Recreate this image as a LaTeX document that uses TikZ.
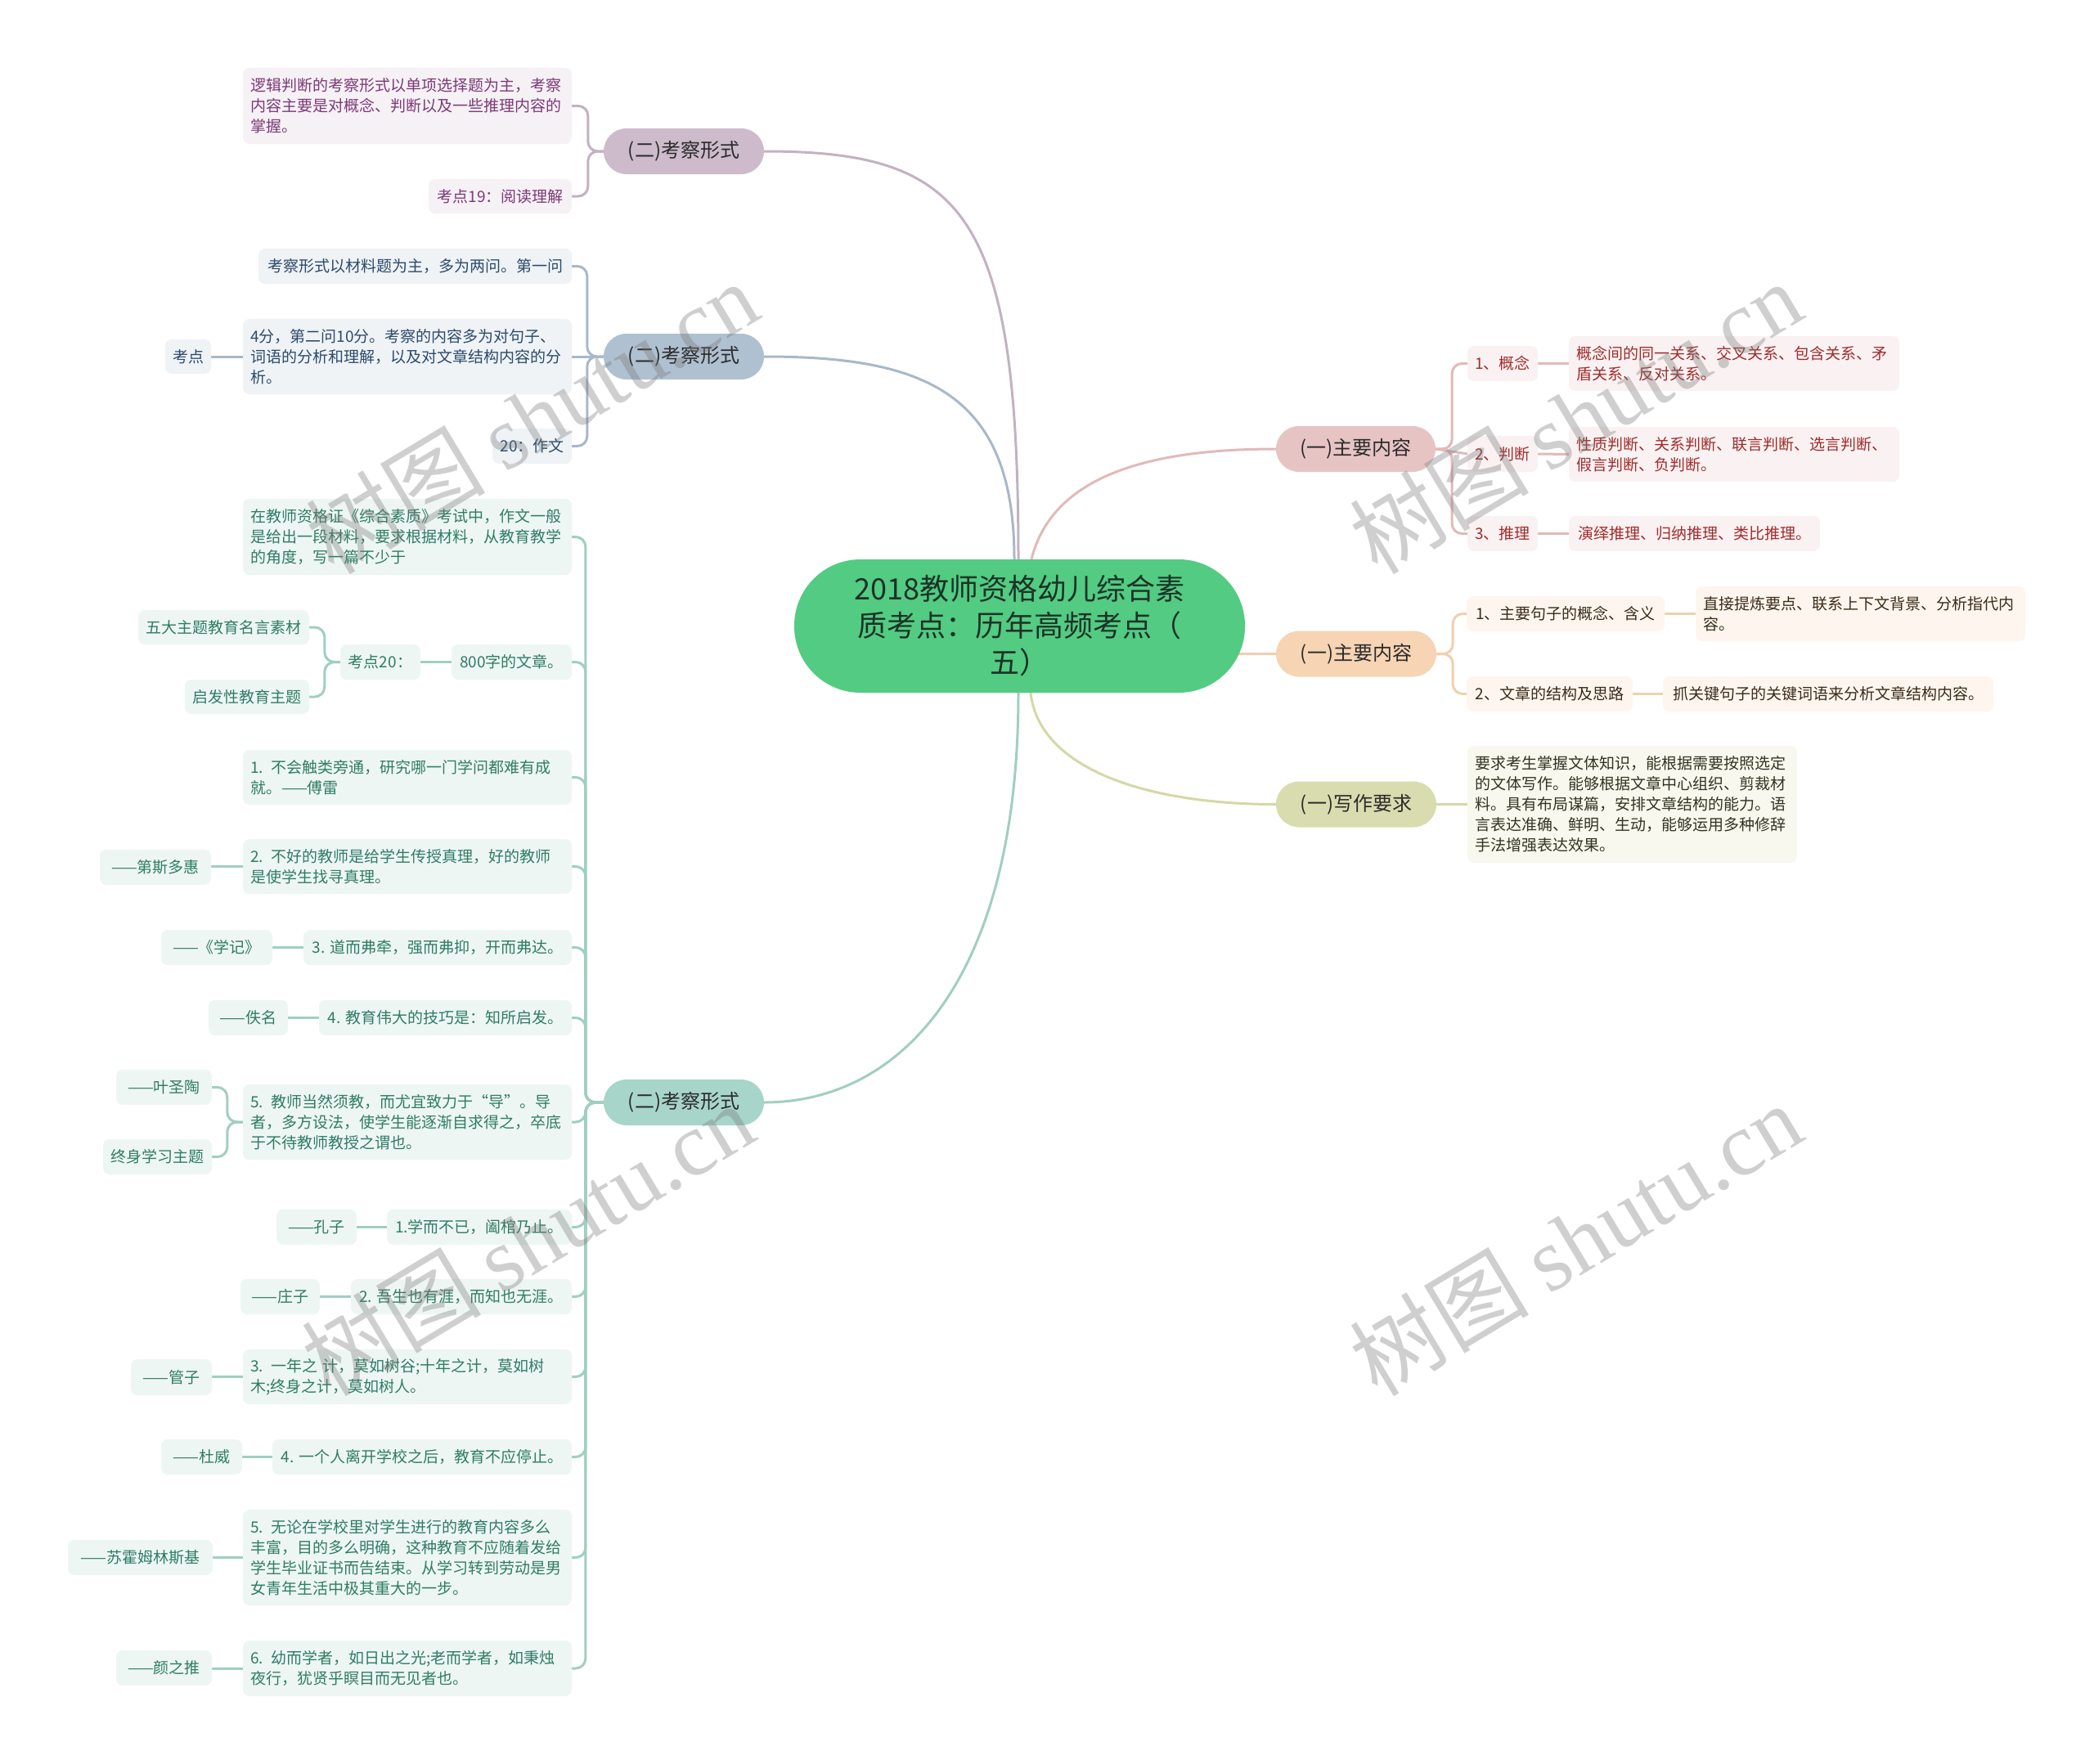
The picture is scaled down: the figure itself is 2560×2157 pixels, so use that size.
\documentclass[tikz,border=0pt]{standalone}
\usepackage{fontspec}
\newfontfamily\cjk{Noto Sans CJK SC}
\newfontfamily\wmserif{Liberation Serif}
\usetikzlibrary{calc}
\pgfdeclarelayer{bg}\pgfdeclarelayer{fg}\pgfsetlayers{bg,main,fg}
\definecolor{cenF}{HTML}{53CB83}\definecolor{cenT}{HTML}{1B3326}
\definecolor{purN}{HTML}{CDBBCB}\definecolor{purL}{HTML}{F6F1F5}\definecolor{purT}{HTML}{7B3A78}\definecolor{purC}{HTML}{C3B2C1}
\definecolor{bluN}{HTML}{AFC0D0}\definecolor{bluL}{HTML}{EFF3F6}\definecolor{bluT}{HTML}{2C4A6B}\definecolor{bluC}{HTML}{A9B8C8}
\definecolor{teaN}{HTML}{A7D5C9}\definecolor{teaL}{HTML}{EEF6F4}\definecolor{teaT}{HTML}{2E7D64}\definecolor{teaC}{HTML}{A0CFC2}
\definecolor{pnkN}{HTML}{E7C4C4}\definecolor{pnkL}{HTML}{FAF2F2}\definecolor{pnkT}{HTML}{A12B2B}\definecolor{pnkC}{HTML}{E2B9B9}
\definecolor{orgN}{HTML}{F6D4B4}\definecolor{orgL}{HTML}{FEF6EE}\definecolor{orgT}{HTML}{3B2A1A}\definecolor{orgC}{HTML}{F1CFAE}
\definecolor{olvN}{HTML}{D9DCAE}\definecolor{olvL}{HTML}{F8F8EE}\definecolor{olvT}{HTML}{333322}\definecolor{olvC}{HTML}{D5D8A6}
\definecolor{brT}{HTML}{2B2B2B}\definecolor{wmgray}{HTML}{787878}
\newcommand\mmbox[7]{%
 \pgfmathsetmacro\mmw{#4-#2}\pgfmathsetmacro\mmh{#5-#3}\pgfmathsetmacro\mmt{#4-#2-18}%
 \node[leafbase,align=left,#6,minimum width=\mmw pt,minimum height=\mmh pt,text width=\mmt pt] (#1) at ({(#2+#4)/2},{(#3+#5)/2}) {#7};}
\newcommand\mmline[7]{%
 \pgfmathsetmacro\mmw{#4-#2}\pgfmathsetmacro\mmh{#5-#3}%
 \node[leafbase,inner xsep=0pt,#6,minimum width=\mmw pt,minimum height=\mmh pt] (#1) at ({(#2+#4)/2},{(#3+#5)/2}) {#7};}
\begin{document}
\begin{tikzpicture}[x=1pt,y=-1pt,
 leafbase/.style={rounded corners=8pt, inner xsep=9pt, inner ysep=3pt, font=\cjk\fontsize{19}{25}\selectfont, align=center},
 brnode/.style={rounded corners=28pt, minimum width=196pt, minimum height=56pt, inner sep=0pt, font=\cjk\fontsize{24}{28}\selectfont, text=brT},
 link/.style={line width=3pt, rounded corners=12pt, line cap=round},
 pleaf/.style={fill=purL, text=purT},
 bleaf/.style={fill=bluL, text=bluT},
 tleaf/.style={fill=teaL, text=teaT},
 kleaf/.style={fill=pnkL, text=pnkT},
 oleaf/.style={fill=orgL, text=orgT},
 vleaf/.style={fill=olvL, text=olvT},
 wm/.style={rotate=31, text=wmgray, opacity=0.35, text opacity=0.35, font=\cjk\fontsize{110}{110}\selectfont, inner sep=0pt}
]
\useasboundingbox (0,0) rectangle (2560,2157);
% central
\node[fill=cenF, rounded corners=81pt, minimum width=551pt, minimum height=163pt, inner sep=0pt, align=center, text=cenT, font=\cjk\fontsize{36}{45}\selectfont] (c) at (1246.5,765.5) {2018教师资格幼儿综合素\\质考点：历年高频考点（\\五）};
% branch nodes
\node[brnode, fill=purN] (pur) at (836,185) {(二)考察形式};
\node[brnode, fill=bluN] (blu) at (836,436) {(二)考察形式};
\node[brnode, fill=teaN] (tea) at (836,1348) {(二)考察形式};
\node[brnode, fill=pnkN, minimum width=195pt] (pnk) at (1657.5,549) {(一)主要内容};
\node[brnode, fill=orgN] (org) at (1658,799.5) {(一)主要内容};
\node[brnode, fill=olvN] (olv) at (1658,983.5) {(一)写作要求};
% purple leaves
\mmbox{p1}{297}{83}{699}{176}{pleaf}{逻辑判断的考察形式以单项选择题为主，考察\\内容主要是对概念、判断以及一些推理内容的\\掌握。}
\mmline{p2}{524}{219}{699}{261}{pleaf}{考点19：阅读理解}
% blue leaves
\mmline{b1}{316}{304}{699}{347}{bleaf}{考察形式以材料题为主，多为两问。第一问}
\mmbox{b2}{297}{390}{699}{482}{bleaf}{4分，第二问10分。考察的内容多为对句子、\\词语的分析和理解，以及对文章结构内容的分\\析。}
\mmline{b2a}{202}{415}{258}{457}{bleaf}{考点}
\mmline{b3}{602}{524}{699}{567}{bleaf}{20：作文}
% teal leaves
\mmbox{t1}{297}{610}{699}{703}{tleaf}{在教师资格证《综合素质》考试中，作文一般\\是给出一段材料，要求根据材料，从教育教学\\的角度，写一篇不少于}
\mmline{t2}{552}{788}{699}{831}{tleaf}{800字的文章。}
\mmline{t2a}{416}{788}{514}{831}{tleaf}{考点20：}
\mmline{t2b}{169}{746}{378}{788}{tleaf}{五大主题教育名言素材}
\mmline{t2c}{226}{831}{378}{873}{tleaf}{启发性教育主题}
\mmbox{t3}{297}{917}{699}{984}{tleaf}{1. 不会触类旁通，研究哪一门学问都难有成\\就。——傅雷}
\mmbox{t4}{297}{1026}{699}{1093}{tleaf}{2. 不好的教师是给学生传授真理，好的教师\\是使学生找寻真理。}
\mmline{t4a}{122}{1039}{258}{1082}{tleaf}{——第斯多惠}
\mmline{t5}{371}{1137}{699}{1180}{tleaf}{3. 道而弗牵，强而弗抑，开而弗达。}
\mmline{t5a}{197}{1137}{333}{1180}{tleaf}{——《学记》}
\mmline{t6}{390}{1223}{699}{1266}{tleaf}{4. 教育伟大的技巧是：知所启发。}
\mmline{t6a}{255}{1223}{352}{1266}{tleaf}{——佚名}
\mmbox{t7}{297}{1326}{699}{1418}{tleaf}{5. 教师当然须教，而尤宜致力于“导”。导\\者，多方设法，使学生能逐渐自求得之，卒底\\于不待教师教授之谓也。}
\mmline{t7a}{142}{1308}{259}{1351}{tleaf}{——叶圣陶}
\mmline{t7b}{126}{1393}{259}{1436}{tleaf}{终身学习主题}
\mmline{t8}{473}{1479}{699}{1522}{tleaf}{1.学而不已，阖棺乃止。}
\mmline{t8a}{338}{1479}{436}{1522}{tleaf}{——孔子}
\mmline{t9}{429}{1564}{699}{1607}{tleaf}{2. 吾生也有涯，而知也无涯。}
\mmline{t9a}{294}{1564}{391}{1607}{tleaf}{——庄子}
\mmbox{t10}{297}{1650}{699}{1717}{tleaf}{3. 一年之 计，莫如树谷;十年之计，莫如树\\木;终身之计，莫如树人。}
\mmline{t10a}{160}{1662}{259}{1706}{tleaf}{——管子}
\mmline{t11}{333}{1760}{699}{1803}{tleaf}{4. 一个人离开学校之后，教育不应停止。}
\mmline{t11a}{197}{1760}{296}{1803}{tleaf}{——杜威}
\mmbox{t12}{297}{1846}{699}{1963}{tleaf}{5. 无论在学校里对学生进行的教育内容多么\\丰富，目的多么明确，这种教育不应随着发给\\学生毕业证书而告结束。从学习转到劳动是男\\女青年生活中极其重大的一步。}
\mmline{t12a}{83}{1883}{260}{1926}{tleaf}{——苏霍姆林斯基}
\mmbox{t13}{297}{2006}{699}{2074}{tleaf}{6. 幼而学者，如日出之光;老而学者，如秉烛\\夜行，犹贤乎瞑目而无见者也。}
\mmline{t13a}{142}{2018}{259}{2061}{tleaf}{——颜之推}
% pink leaves
\mmline{k1}{1794}{423}{1880}{466}{kleaf}{1、概念}
\mmbox{k1a}{1918}{411}{2322}{478}{kleaf}{概念间的同一关系、交叉关系、包含关系、矛\\盾关系、反对关系。}
\mmline{k2}{1794}{533}{1880}{577}{kleaf}{2、判断}
\mmbox{k2a}{1918}{522}{2322}{589}{kleaf}{性质判断、关系判断、联言判断、选言判断、\\假言判断、负判断。}
\mmline{k3}{1794}{631}{1880}{674}{kleaf}{3、推理}
\mmline{k3a}{1918}{631}{2225}{674}{kleaf}{演绎推理、归纳推理、类比推理。}
% orange leaves
\mmline{o1}{1793}{729}{2035}{772}{oleaf}{1、主要句子的概念、含义}
\mmbox{o1a}{2073}{717}{2476}{784}{oleaf}{直接提炼要点、联系上下文背景、分析指代内\\容。}
\mmline{o2}{1793}{827}{1996}{870}{oleaf}{2、文章的结构及思路}
\mmline{o2a}{2033}{827}{2437}{870}{oleaf}{抓关键句子的关键词语来分析文章结构内容。}
% olive leaf
\mmbox{v1}{1794}{912}{2197}{1055}{vleaf}{要求考生掌握文体知识，能根据需要按照选定\\的文体写作。能够根据文章中心组织、剪裁材\\料。具有布局谋篇，安排文章结构的能力。语\\言表达准确、鲜明、生动，能够运用多种修辞\\手法增强表达效果。}
% connectors
\begin{pgfonlayer}{bg}
\fill[white] (0,0) rectangle (2560,2157);
\draw[link, purC] ($(c.north)+(-1.5,0)$) .. controls +(0,-424) and +(246,0) .. (pur.east);
\draw[link, bluC] ($(c.north)+(-6.5,0)$) .. controls +(0,-204) and +(196,0) .. (blu.east);
\draw[link, teaC] ($(c.south)+(-1.5,0)$) .. controls +(0,352) and +(166,0) .. (tea.east);
\draw[link, pnkC] ($(c.north)+(14.5,0)$) .. controls +(25,-100) and +(-160,0) .. (pnk.west);
\draw[link, orgC] (c.center |- org.west) -- (org.west);
\draw[link, olvC] ($(c.south)+(13.5,0)$) .. controls +(10,92) and +(-160,0) .. (olv.west);
% purple
\draw[link, purC] (pur.west) -- ++(-19,0) |- (p1.east);
\draw[link, purC] (pur.west) -- ++(-19,0) |- (p2.east);
% blue
\draw[link, bluC] (blu.west) -- ++(-20,0) |- (b1.east);
\draw[link, bluC] (blu.west) -- (b2.east);
\draw[link, bluC] (blu.west) -- ++(-20,0) |- (b3.east);
\draw[link, bluC] (b2.west) -- (b2a.east);
% teal
\foreach \n in {t1,t2,t3,t4,t5,t6,t7,t8,t9,t10,t11,t12,t13}
  \draw[link, teaC] (tea.west) -- ++(-22,0) |- (\n.east);
\draw[link, teaC] (t2.west) -- (t2a.east);
\draw[link, teaC] (t2a.west) -- ++(-19,0) |- (t2b.east);
\draw[link, teaC] (t2a.west) -- ++(-19,0) |- (t2c.east);
\draw[link, teaC] (t4.west) -- (t4a.east |- t4.west);
\draw[link, teaC] (t5.west) -- (t5a.east);
\draw[link, teaC] (t6.west) -- (t6a.east);
\draw[link, teaC] (t7.west) -- ++(-19,0) |- (t7a.east);
\draw[link, teaC] (t7.west) -- ++(-19,0) |- (t7b.east);
\draw[link, teaC] (t8.west) -- (t8a.east);
\draw[link, teaC] (t9.west) -- (t9a.east);
\draw[link, teaC] (t10.west) -- (t10a.east |- t10.west);
\draw[link, teaC] (t11.west) -- (t11a.east);
\draw[link, teaC] (t12.west) -- (t12a.east |- t12.west);
\draw[link, teaC] (t13.west) -- (t13a.east |- t13.west);
% pink
\draw[link, pnkC] (pnk.east) -- ++(20,0) |- (k1.west);
\draw[link, pnkC] (pnk.east) -- (k2.west);
\draw[link, pnkC] (pnk.east) -- ++(20,0) |- (k3.west);
\draw[link, pnkC] (k1.east) -- (k1a.west);
\draw[link, pnkC] (k2.east) -- (k2a.west);
\draw[link, pnkC] (k3.east) -- (k3a.west);
% orange
\draw[link, orgC] (org.east) -- ++(20,0) |- (o1.west);
\draw[link, orgC] (org.east) -- ++(20,0) |- (o2.west);
\draw[link, orgC] (o1.east) -- (o1a.west);
\draw[link, orgC] (o2.east) -- (o2a.west);
% olive
\draw[link, olvC] (olv.east) -- (v1.west);
\end{pgfonlayer}
% watermarks
\begin{pgfonlayer}{fg}
\foreach \wx/\wy/\wn in {650/510/wma,1926/510/wmb,645/1515/wmc,1926/1515/wmd}
  \node[wm] (\wn) at (\wx,\wy) {树图 {\wmserif shutu.cn}};
\end{pgfonlayer}
\end{tikzpicture}
\end{document}
